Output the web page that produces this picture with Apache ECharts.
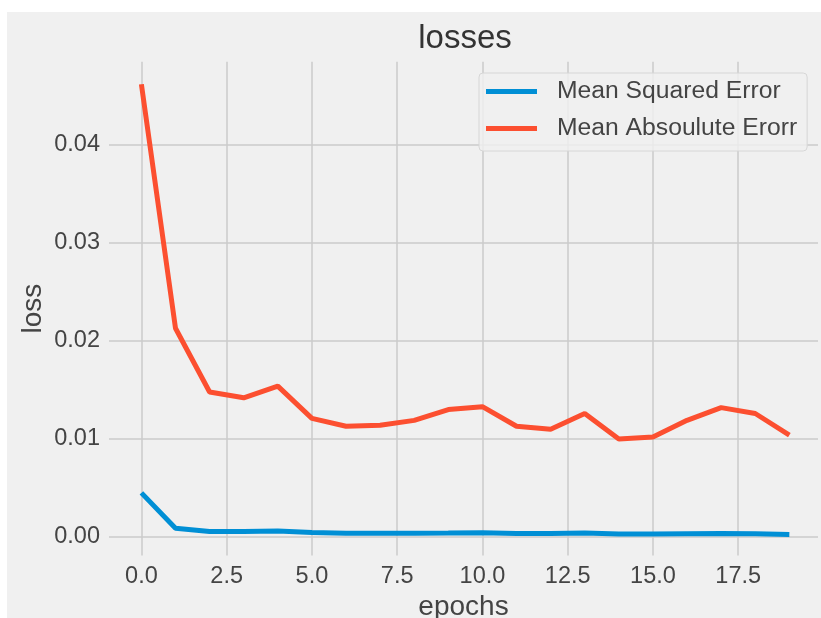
<!DOCTYPE html>
<html>
<head>
<meta charset="utf-8">
<script src="https://cdn.jsdelivr.net/npm/echarts@6/dist/echarts.min.js"></script>
<style>
  html, body { margin: 0; padding: 0; background: #ffffff; }
  #bg { position: absolute; left: 7px; top: 12px; width: 814px; height: 606px; background: #f0f0f0; }
  #chart { position: absolute; left: 0; top: 0; width: 821px; height: 618px; }
</style>
</head>
<body>
<div id="bg"></div>
<div id="chart"></div>
<script>
const epochs = [0, 1, 2, 3, 4, 5, 6, 7, 8, 9, 10, 11, 12, 13, 14, 15, 16, 17, 18, 19];
const mseValues = [0.0045, 0.0009, 0.00055, 0.00055, 0.0006, 0.00045, 0.00038, 0.00037, 0.00037, 0.0004,
                   0.00044, 0.00036, 0.00035, 0.0004, 0.0003, 0.0003, 0.00033, 0.00035, 0.00033, 0.00026];
const maeValues = [0.0462, 0.0213, 0.0148, 0.0142, 0.0154, 0.0121, 0.0113, 0.0114, 0.0119, 0.0130,
                   0.0133, 0.0113, 0.0110, 0.0126, 0.0100, 0.0102, 0.0119, 0.0132, 0.0126, 0.0104];
const xTicks = [0, 2.5, 5, 7.5, 10, 12.5, 15, 17.5];
const yTicks = [0, 0.01, 0.02, 0.03, 0.04];
const seriesNames = ['Mean Squared Error', 'Mean Absoulute Erorr'];
const titleText = 'losses';
const xName = 'epochs';
const yName = 'loss';

const FONT = '"Liberation Sans", Arial, Helvetica, sans-serif';
const chart = echarts.init(document.getElementById('chart'), null, { renderer: 'canvas' });

const pairs = (vals) => vals.map((v, i) => [epochs[i], v]);

chart.setOption({
  backgroundColor: 'transparent',
  animation: false,
  title: {
    text: titleText,
    left: 465,
    top: 22,
    padding: 0,
    textAlign: 'center',
    textStyle: { fontFamily: FONT, fontSize: 33, fontWeight: 'normal', color: '#333333', lineHeight: 33 }
  },
  legend: {
    orient: 'vertical',
    left: 479,
    top: 73,
    padding: [6, 10, 10, 7],
    itemGap: 12,
    itemWidth: 51,
    itemHeight: 5,
    icon: 'rect',
    backgroundColor: 'rgba(240,240,240,0.8)',
    borderColor: '#d6d6d6',
    borderWidth: 1,
    borderRadius: 4,
    data: seriesNames,
    textStyle: { fontFamily: FONT, fontSize: 24.7, color: '#444444', padding: [0, 0, 0, 15], lineHeight: 25 }
  },
  grid: { left: 109, right: 3, top: 61.7, bottom: 62.4, containLabel: false, outerBoundsMode: 'none' },
  xAxis: {
    type: 'value',
    min: -0.95,
    max: 19.84,
    name: xName,
    nameLocation: 'middle',
    nameGap: 38,
    nameMoveOverlap: false,
    nameTextStyle: { fontFamily: FONT, fontSize: 28, color: '#444444' },
    axisLine: { show: false },
    axisTick: { show: false, customValues: xTicks },
    axisLabel: {
      customValues: xTicks,
      margin: 9,
      fontFamily: FONT, fontSize: 23.5, color: '#444444',
      formatter: (v) => v.toFixed(1)
    },
    splitLine: { show: true, lineStyle: { color: '#cbcbcb', width: 1.5 } }
  },
  yAxis: {
    type: 'value',
    min: -0.0019,
    max: 0.0485,
    name: yName,
    nameLocation: 'middle',
    nameGap: 62,
    nameMoveOverlap: false,
    nameTextStyle: { fontFamily: FONT, fontSize: 28, color: '#444444' },
    axisLine: { show: false },
    axisTick: { show: false, customValues: yTicks },
    axisLabel: {
      customValues: yTicks,
      margin: 9,
      fontFamily: FONT, fontSize: 23.5, color: '#444444',
      formatter: (v) => v.toFixed(2)
    },
    splitLine: { show: true, lineStyle: { color: '#cbcbcb', width: 1.5 } }
  },
  series: [
    {
      name: seriesNames[0],
      type: 'line',
      data: pairs(mseValues),
      showSymbol: false,
      symbol: 'none',
      color: '#008fd5',
      lineStyle: { color: '#008fd5', width: 5 }
    },
    {
      name: seriesNames[1],
      type: 'line',
      data: pairs(maeValues),
      showSymbol: false,
      symbol: 'none',
      color: '#fc4f30',
      lineStyle: { color: '#fc4f30', width: 5 }
    }
  ]
});
</script>
</body>
</html>
